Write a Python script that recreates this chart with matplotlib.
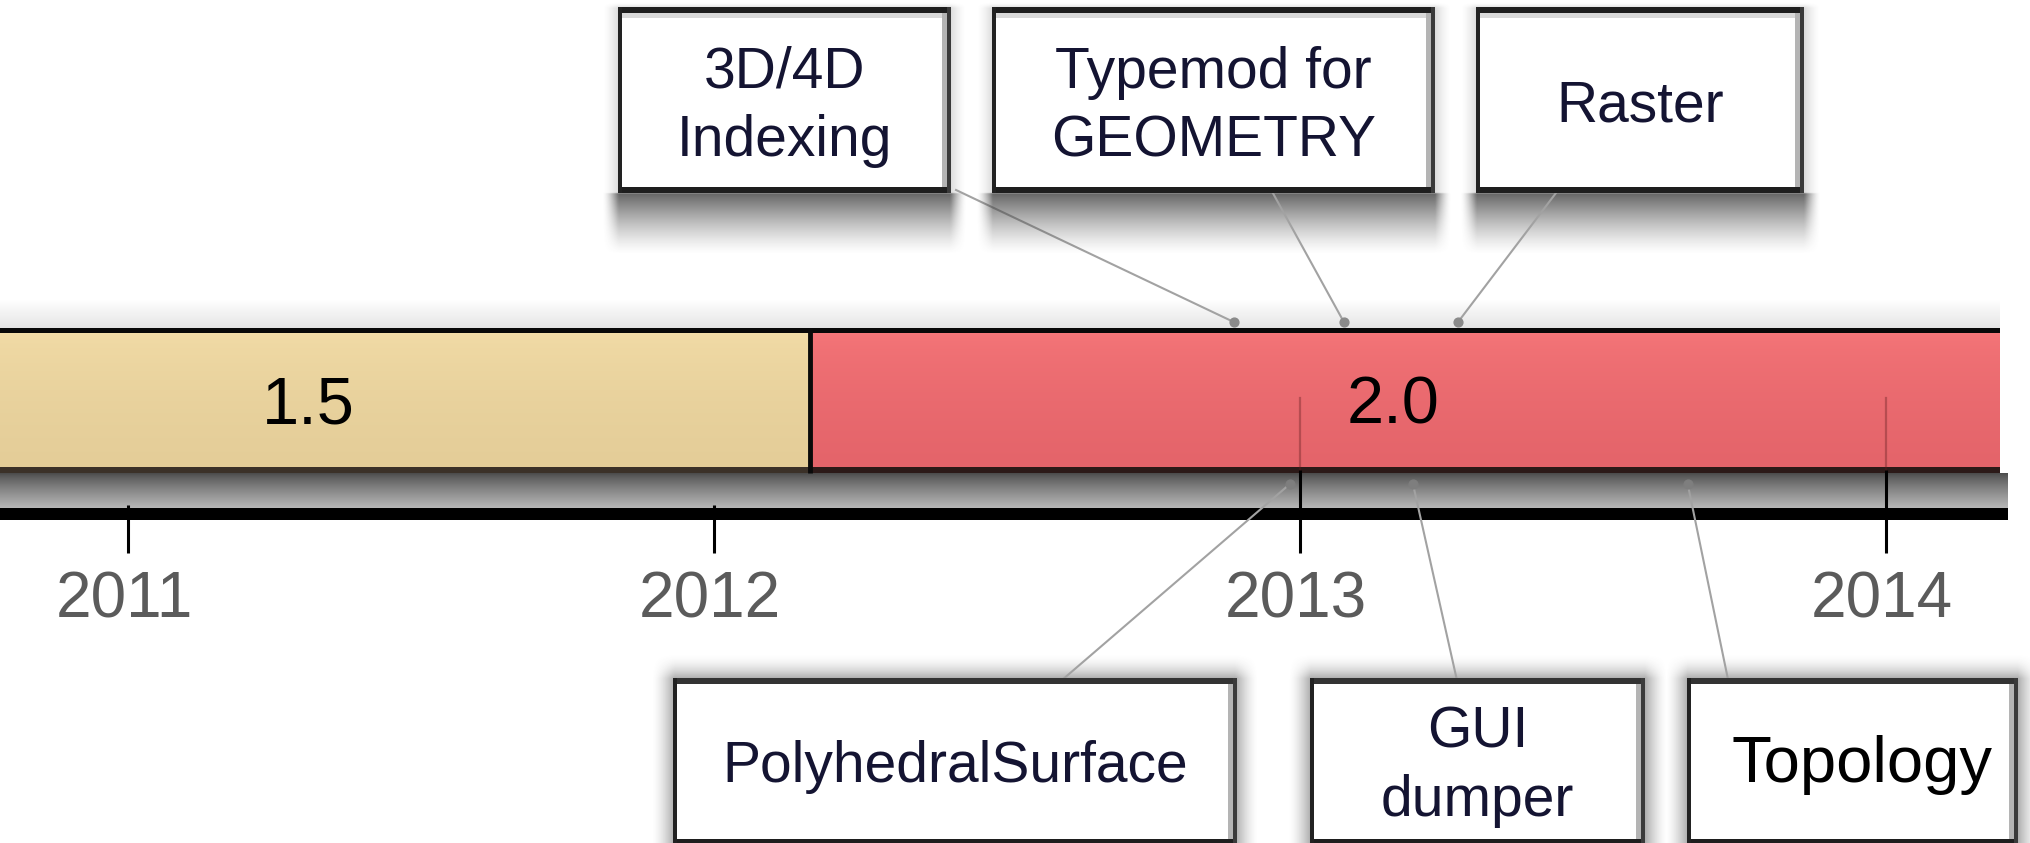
import numpy as np
import matplotlib.pyplot as plt
from matplotlib.patches import Rectangle
from matplotlib.colors import to_rgb

# data
years = [2011, 2012, 2013, 2014]
versions = ['1.5', '2.0']
version_start = [2010.70, 2012.164]
version_end = [2012.164, 2014.195]

top_features = ['3D/4D\nIndexing', 'Typemod for\nGEOMETRY', 'Raster']
top_dates = [2012.887, 2013.075, 2013.270]
bottom_features = ['PolyhedralSurface', 'GUI\ndumper', 'Topology']
bottom_dates = [2012.983, 2013.193, 2013.662]

# layout (x in years, y in pixel rows from the top)
version_label_x = [2011.307, 2013.159]
top_boxes = [(2011.836, 2012.404), (2012.474, 2013.231), (2013.301, 2013.861)]
top_attach = [2012.413, 2012.951, 2013.441]
bottom_boxes = [(2011.930, 2012.892), (2013.017, 2013.589), (2013.660, 2014.225)]
bottom_attach = [2012.594, 2013.268, 2013.731]
bar_colors = [('#f2dca7', '#e4cd98'), ('#f57679', '#e4646a')]
bar_edge_bottom = ['#3b3128', '#2c1a18']

W, H = 2031, 843
XMIN = 2011 - 128.3 / 585.8
XMAX = XMIN + W / 585.8
PX = (XMAX - XMIN) / W

fig = plt.figure(figsize=(W / 100, H / 100), dpi=100)
ax = fig.add_axes([0, 0, 1, 1])


def vgrad(x0, x1, y0, y1, c0, c1, z, power=0.6):
    t = np.linspace(0, 1, 80) ** power
    a, b = np.array(to_rgb(c0)), np.array(to_rgb(c1))
    img = (a[None, :] * (1 - t[:, None]) + b[None, :] * t[:, None])[:, None, :]
    ax.imshow(img, extent=(x0, x1, y1, y0), origin='upper', aspect='auto',
              interpolation='bilinear', zorder=z)


def soft_shadow(x0, x1, y0, y1, sx, st, sb, a_side, a_bot, z):
    xs = np.linspace(x0 - sx, x1 + sx, 240)
    ys = np.linspace(y0 - st, y1 + sb, 160)
    X, Y = np.meshgrid(xs, ys)
    fx = np.clip(np.maximum(x0 - X, X - x1) / sx, 0, 1)
    ftop = np.clip((y0 - Y) / st, 0, 1)
    fbot = np.clip((Y - y1) / sb, 0, 1)
    a = np.where(Y > y1, a_bot * (1 - fbot) ** 1.3, a_side * (1 - ftop) ** 2)
    a = a * (1 - fx) ** 1.5
    img = np.zeros((len(ys), len(xs), 4))
    img[..., :3] = 0.28
    img[..., 3] = a
    ax.imshow(img, extent=(xs[0], xs[-1], ys[-1], ys[0]), origin='upper',
              aspect='auto', interpolation='bilinear', zorder=z)


def draw_box(x0, x1, y0, y1, top_kind):
    w, h = x1 - x0, y1 - y0
    ax.add_patch(Rectangle((x0, y0), w, h, fc='white', ec='none', zorder=4))
    if top_kind:
        ax.add_patch(Rectangle((x0, y0 + 6), w, 5, fc='#d9d9d9', ec='none', zorder=4))
    ax.add_patch(Rectangle((x1 - 9 * PX, y0), 5 * PX, h, fc='#b4b4b4', ec='none', zorder=4))
    ax.add_patch(Rectangle((x0, y0), w, 6, fc='#1e1e1e' if top_kind else '#333333', ec='none', zorder=5))
    ax.add_patch(Rectangle((x0, y1 - 6), w, 6, fc='#1e1e1e', ec='none', zorder=5))
    ax.add_patch(Rectangle((x0, y0), 4 * PX, h, fc='#222222', ec='none', zorder=5))
    ax.add_patch(Rectangle((x1 - 4 * PX, y0), 4 * PX, h, fc='#3a3a3a', ec='none', zorder=5))


def box_text(xc, yc, label, size=41, color='#141432'):
    lines = label.split('\n')
    first = yc - (len(lines) - 1) * 69 / 2 + 22
    for i, line in enumerate(lines):
        ax.text(xc, first + i * 69, line, ha='center', va='baseline', fontsize=size,
                family=['Liberation Sans', 'DejaVu Sans'], color=color, zorder=6)


# faint shadow above the bar
vgrad(XMIN, version_end[-1], 300, 328, '#ffffff', '#e4e4e4', 1, power=1.0)

# version bars
for i, v in enumerate(versions):
    x0, x1 = max(version_start[i], XMIN - 0.01), version_end[i]
    vgrad(x0, x1, 333, 467, bar_colors[i][0], bar_colors[i][1], 2)
    ax.add_patch(Rectangle((x0, 328), x1 - x0, 5, fc='#080808', ec='none', zorder=3))
    ax.add_patch(Rectangle((x0, 467), x1 - x0, 6, fc=bar_edge_bottom[i], ec='none', zorder=3))
    ax.text(version_label_x[i], 423, v, ha='center', va='baseline', fontsize=48,
            family=['Liberation Sans', 'DejaVu Sans'], color='black', zorder=3)
ax.plot([version_start[1], version_start[1]], [328, 473], color='#0a0a0a', lw=3.5,
        solid_capstyle='butt', zorder=3)

# shadow strip and the axis line
axis_end = XMIN + 2008 * PX
vgrad(XMIN, axis_end, 473, 508, '#4a4a4a', '#b6b6b6', 1, power=0.8)
ax.add_patch(Rectangle((XMIN, 508), axis_end - XMIN, 12, fc='black', ec='none', zorder=3))

# ticks and year labels
for y in years:
    if y > version_start[1]:
        ax.plot([y, y], [398, 470], color='#5a1a1c', lw=1.6, alpha=0.35, zorder=3)
        ax.plot([y, y], [470, 553], color='black', lw=2.2, solid_capstyle='butt', zorder=3)
    else:
        ax.plot([y, y], [505, 553], color='black', lw=2.2, solid_capstyle='butt', zorder=3)
    ax.text(y - 4 * PX, 618, str(y), ha='center', va='baseline', fontsize=46,
            family=['Liberation Sans Narrow', 'Liberation Sans'], color='#5b5b5b')

# boxes above the bar
for (x0, x1), label, date, att in zip(top_boxes, top_features, top_dates, top_attach):
    soft_shadow(x0, x1, 7, 193, 16 * PX, 6, 62, 0.2, 0.85, 3)
    draw_box(x0, x1, 7, 193, True)
    box_text((x0 + x1) / 2, 100, label)
    ax.plot([att, date], [190, 322], color='#a2a2a2', lw=1.5, zorder=3)
ax.scatter(top_dates, [322] * len(top_dates), s=40, color='#8a8a8a', zorder=4)

# boxes below the bar
for (x0, x1), label, date, att in zip(bottom_boxes, bottom_features, bottom_dates, bottom_attach):
    soft_shadow(x0, x1, 678, 845, 22 * PX, 26, 10, 0.45, 0.3, 3)
    draw_box(x0, x1, 678, 845, False)
    if label == 'Topology':
        box_text((x0 + x1) / 2 + 10 * PX, 760, label, size=47, color='black')
    else:
        box_text((x0 + x1) / 2, 760, label)
    ax.plot([att, date], [680, 484], color='#a2a2a2', lw=1.5, zorder=3)
ax.scatter(bottom_dates, [484] * len(bottom_dates), s=40, color='#7e7e7e', zorder=4)

ax.set_xlim(XMIN, XMAX)
ax.set_ylim(H, 0)
ax.axis('off')
fig.savefig('out.png', dpi=100)
